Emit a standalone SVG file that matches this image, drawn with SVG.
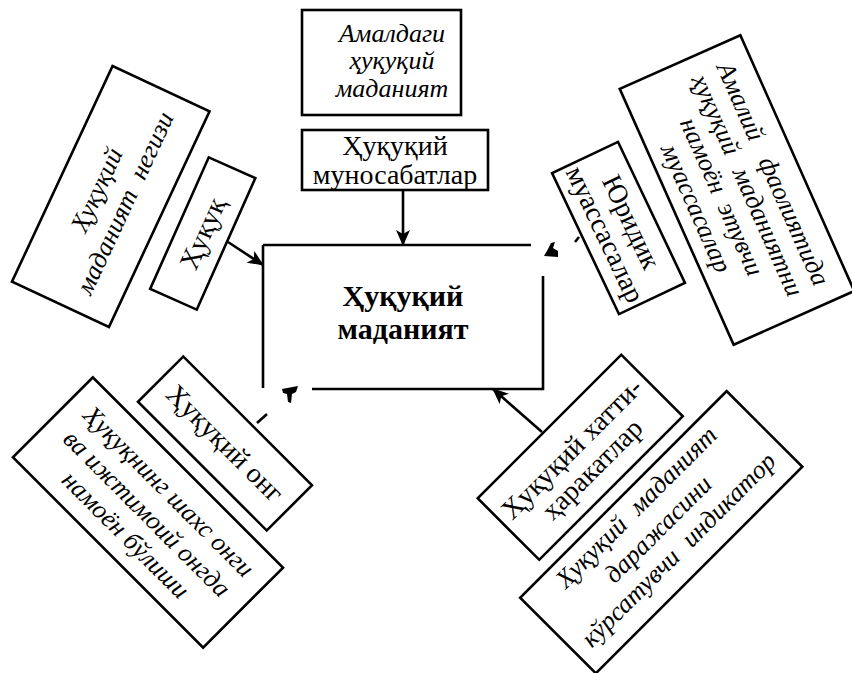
<svg xmlns="http://www.w3.org/2000/svg" width="852" height="673" viewBox="0 0 852 673">
<defs>
<style>
.box{fill:#fff;stroke:#000;stroke-width:2.6}
.t{font-family:"Liberation Serif","DejaVu Serif",serif;font-size:28px;fill:#000;text-anchor:middle}
.i{font-family:"Liberation Serif","DejaVu Serif",serif;font-size:26px;font-style:italic;fill:#000;text-anchor:middle}
.b{font-family:"Liberation Serif","DejaVu Serif",serif;font-size:30px;font-weight:bold;fill:#000;text-anchor:middle}
.ln{fill:none;stroke:#000;stroke-width:2.6}
</style>
<marker id="ah" markerWidth="16" markerHeight="14" refX="15" refY="7" orient="auto" markerUnits="userSpaceOnUse">
<path d="M0,0 L16,7 L0,14 L4,7 z" fill="#000"/>
</marker>
</defs>
<rect width="852" height="673" fill="#fff"/>

<g id="center">
<path class="ln" d="M263,245 H531 M543,276 V389 H312 M263,245 V388"/>
<text class="b" x="403" y="306">Ҳуқуқий</text>
<text class="b" x="403" y="339">маданият</text>
</g>

<g id="amaldagi">
<rect class="box" x="302" y="10" width="159" height="105"/>
<text class="i" x="392" y="42">Амалдаги</text>
<text class="i" x="392" y="69">ҳуқуқий</text>
<text class="i" x="392" y="97">маданият</text>
</g>

<g id="munosabat">
<rect class="box" x="302" y="130" width="186" height="60"/>
<text class="t" x="395" y="155" font-size="27">Ҳуқуқий</text>
<text class="t" x="395" y="184" font-size="27">муносабатлар</text>
</g>

<g id="negizi" transform="translate(110.75,196.5) rotate(-65)">
<rect class="box" x="-119" y="-53.5" width="238" height="107"/>
<text class="i" x="0" y="-7">Ҳуқуқий</text>
<text class="i" x="0" y="24" word-spacing="8">маданият негизи</text>
</g>

<g id="huquq" transform="translate(202.75,233.5) rotate(-66)">
<rect class="box" x="-72" y="-25.5" width="144" height="51"/>
<text class="t" x="0" y="9">Ҳуқуқ</text>
</g>

<g id="yuridik" transform="translate(618.5,228) rotate(64.6)">
<rect class="box" x="-78" y="-36.5" width="156" height="73"/>
<text class="t" x="0" y="-5">Юридик</text>
<text class="t" x="0" y="24">муассасалар</text>
</g>

<g id="amaliy" transform="translate(737,190) rotate(66)">
<rect class="box" x="-140" y="-66" width="280" height="132"/>
<text class="i" x="0" y="-31" word-spacing="14">Амалий фаолиятида</text>
<text class="i" x="0" y="-3" word-spacing="10">ҳуқуқий маданиятни</text>
<text class="i" x="0" y="25" word-spacing="6">намоён этувчи</text>
<text class="i" x="0" y="53">муассасалар</text>
</g>

<g id="ong" transform="translate(225,443.5) rotate(45)">
<rect class="box" x="-91" y="-32" width="182" height="64"/>
<text class="t" x="0" y="9">Ҳуқуқий онг</text>
</g>

<g id="shaxs" transform="translate(148,512.5) rotate(45)">
<rect class="box" x="-134.5" y="-56.5" width="269" height="113"/>
<text class="i" x="0" y="-21" font-size="27">Ҳуқуқнинг шахс онги</text>
<text class="i" x="0" y="10" font-size="27">ва ижтимоий онгда</text>
<text class="i" x="0" y="40" font-size="27">намоён бўлиши</text>
</g>

<g id="xatti" transform="translate(580.25,457.25) rotate(-45)">
<rect class="box" x="-101.5" y="-43.5" width="203" height="87"/>
<text class="t" x="0" y="-3">Ҳуқуқий хатти-</text>
<text class="t" x="0" y="26">ҳаракатлар</text>
</g>

<g id="indikator" transform="translate(661.25,532.25) rotate(-45)">
<rect class="box" x="-146" y="-53.5" width="292" height="107"/>
<text class="i" x="0" y="-27" word-spacing="8">Ҳуқуқий маданият</text>
<text class="i" x="0" y="4">даражасини</text>
<text class="i" x="0" y="33" word-spacing="8">кўрсатувчи индикатор</text>
</g>

<g id="connectors">
<line class="ln" x1="403" y1="190" x2="403" y2="245" marker-end="url(#ah)"/>
<line class="ln" x1="228" y1="242" x2="263" y2="265" marker-end="url(#ah)"/>
<line class="ln" x1="542" y1="432" x2="493" y2="389" marker-end="url(#ah)"/>
<line class="ln" x1="257" y1="423" x2="267" y2="414"/>
<line class="ln" x1="575" y1="242" x2="579" y2="237"/>
<polygon points="544,256 548,249 551,243 555,242 553,248 558,251 558,257" fill="#000"/>
<polygon points="282,389 298,386 296,392 292,394 291,403 288,402 287,394 283,393" fill="#000"/>
</g>
</svg>
